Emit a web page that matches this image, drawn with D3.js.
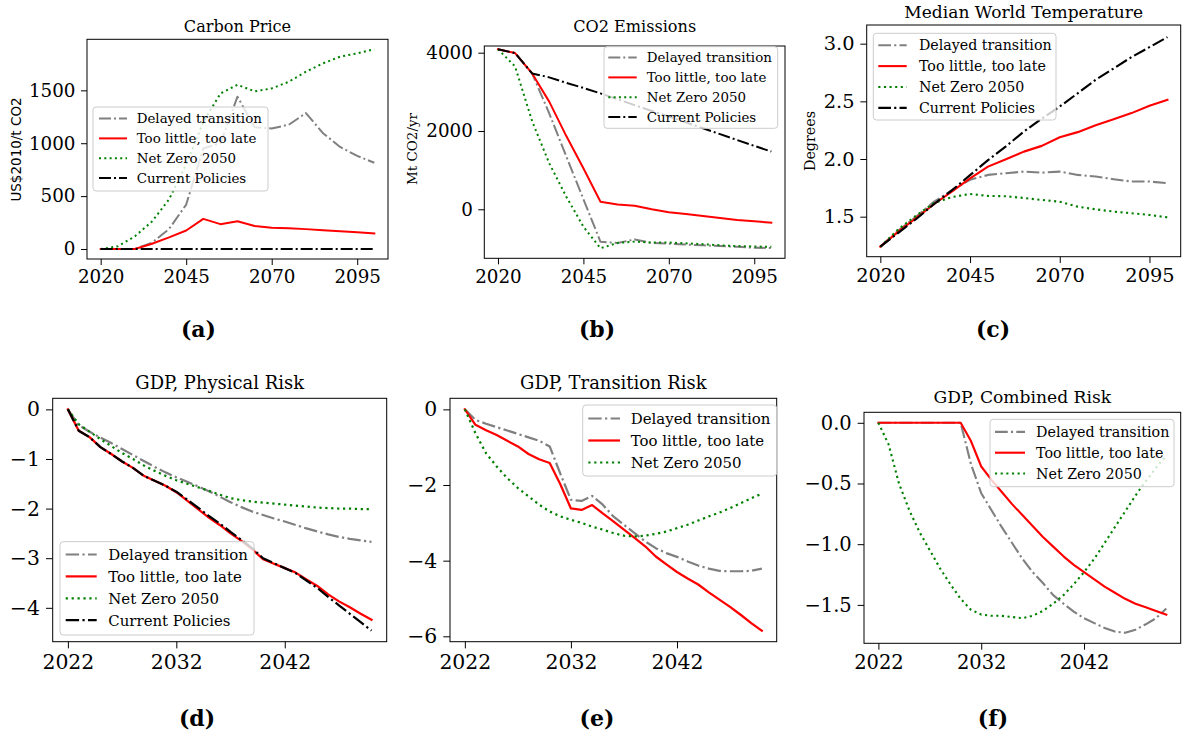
<!DOCTYPE html>
<html><head><meta charset="utf-8">
<script src="https://cdn.jsdelivr.net/npm/d3@7"></script>
<style>body{margin:0;background:#fff;} svg{display:block;}</style>
</head><body><svg id="c" width="1187" height="735"></svg>
<script>
// ---------- DATA ----------
const scenarioNames = ["Delayed transition", "Too little, too late", "Net Zero 2050", "Current Policies"];

const yearsLong = [2020,2025,2030,2035,2040,2045,2050,2055,2060,2065,2070,2075,2080,2085,2090,2095,2100];
const yearsShort = [2022,2023,2024,2025,2026,2027,2028,2029,2030,2031,2032,2033,2034,2035,2036,2037,2038,2039,2040,2041,2042,2043,2044,2045,2046,2047,2048,2049,2050];

const longTicks = [2020, 2045, 2070, 2095];
const shortTicks = [2022, 2032, 2042];

// Carbon price (US$2010/t CO2)
const carbonDelayed   = [0,0,0,60,190,420,950,1000,1440,1150,1140,1175,1285,1095,965,880,815];
const carbonTooLittle = [0,0,0,50,110,175,285,235,262,218,200,197,188,178,168,158,148];
const carbonNetZero   = [0,25,120,260,470,800,1200,1470,1553,1490,1518,1581,1676,1755,1818,1850,1888];
const carbonCurrent   = [0,0,0,0,0,0,0,0,0,0,0,0,0,0,0,0,0];
const carbonTicks = [0, 500, 1000, 1500];

// CO2 emissions (Mt CO2/yr)
const co2Delayed   = [4090,3990,3470,2450,1350,260,-830,-860,-770,-860,-880,-900,-920,-940,-960,-980,-990];
const co2TooLittle = [4090,3990,3470,2750,1870,1047,194,120,92,0,-75,-120,-171,-222,-273,-307,-341];
const co2NetZero   = [4090,3650,2250,1175,322,-444,-996,-860,-826,-850,-850,-870,-890,-920,-940,-950,-960];
const co2Current   = [4090,3990,3470,3370,3230,3100,2960,2810,2660,2510,2370,2220,2070,1920,1770,1620,1475];
const co2Ticks = [0, 2000, 4000];

// Median world temperature (degrees)
const tempDelayed   = [1.24,1.38,1.50,1.63,1.73,1.82,1.862,1.877,1.891,1.882,1.891,1.862,1.848,1.825,1.805,1.805,1.79];
const tempTooLittle = [1.24,1.37,1.49,1.61,1.72,1.833,1.934,1.998,2.064,2.114,2.189,2.233,2.293,2.345,2.398,2.461,2.513];
const tempNetZero   = [1.24,1.39,1.51,1.62,1.67,1.697,1.68,1.677,1.662,1.645,1.63,1.587,1.564,1.544,1.53,1.515,1.494];
const tempCurrent   = [1.24,1.36,1.48,1.61,1.73,1.86,1.99,2.11,2.238,2.35,2.455,2.57,2.687,2.785,2.884,2.97,3.057];
const tempTicks = [1.5, 2.0, 2.5, 3.0];

// GDP, physical risk
const physDelayed   = [0,-0.32,-0.45,-0.57,-0.68,-0.8,-0.92,-1.04,-1.16,-1.27,-1.37,-1.46,-1.55,-1.65,-1.76,-1.87,-1.97,-2.06,-2.13,-2.2,-2.26,-2.33,-2.4,-2.46,-2.52,-2.57,-2.61,-2.64,-2.67];
const physTooLittle = [0,-0.43,-0.56,-0.76,-0.9,-1.05,-1.18,-1.34,-1.44,-1.54,-1.67,-1.84,-2.01,-2.18,-2.33,-2.5,-2.65,-2.82,-3.02,-3.11,-3.2,-3.29,-3.43,-3.56,-3.73,-3.87,-3.99,-4.12,-4.24];
const physNetZero   = [0,-0.3,-0.45,-0.6,-0.74,-0.88,-1.0,-1.13,-1.24,-1.34,-1.43,-1.5,-1.57,-1.64,-1.72,-1.79,-1.83,-1.86,-1.88,-1.9,-1.92,-1.94,-1.96,-1.98,-1.99,-2.0,-2.0,-2.01,-2.01];
const physCurrent   = [0,-0.43,-0.56,-0.76,-0.9,-1.05,-1.18,-1.34,-1.44,-1.54,-1.66,-1.82,-1.98,-2.15,-2.3,-2.47,-2.63,-2.8,-3.0,-3.1,-3.2,-3.3,-3.45,-3.6,-3.78,-3.95,-4.12,-4.29,-4.46];
const physTicks = [-4, -3, -2, -1, 0];

// GDP, transition risk
const transDelayed   = [0,-0.28,-0.38,-0.47,-0.56,-0.65,-0.74,-0.83,-0.98,-1.7,-2.39,-2.42,-2.29,-2.52,-2.83,-3.05,-3.27,-3.49,-3.67,-3.8,-3.9,-4.02,-4.13,-4.21,-4.27,-4.28,-4.28,-4.27,-4.21];
const transTooLittle = [0,-0.41,-0.55,-0.68,-0.83,-0.98,-1.18,-1.32,-1.42,-1.98,-2.62,-2.66,-2.53,-2.75,-2.96,-3.18,-3.4,-3.62,-3.89,-4.1,-4.3,-4.47,-4.63,-4.84,-5.03,-5.22,-5.43,-5.65,-5.85];
const transNetZero   = [0,-0.63,-1.16,-1.51,-1.82,-2.08,-2.3,-2.52,-2.7,-2.83,-2.92,-3.0,-3.1,-3.18,-3.27,-3.34,-3.36,-3.34,-3.29,-3.23,-3.14,-3.05,-2.94,-2.83,-2.73,-2.61,-2.48,-2.35,-2.23];
const transTicks = [-6, -4, -2, 0];

// GDP, combined risk
const combDelayed   = [0,0,0,0,0,0,0,0,0,-0.34,-0.58,-0.72,-0.86,-0.99,-1.12,-1.23,-1.32,-1.42,-1.49,-1.555,-1.61,-1.65,-1.69,-1.72,-1.73,-1.705,-1.66,-1.61,-1.53];
const combTooLittle = [0,0,0,0,0,0,0,0,0,-0.15,-0.36,-0.47,-0.57,-0.67,-0.76,-0.85,-0.94,-1.02,-1.1,-1.17,-1.23,-1.29,-1.35,-1.40,-1.45,-1.49,-1.52,-1.55,-1.58];
const combNetZero   = [0,-0.18,-0.5,-0.72,-0.9,-1.05,-1.2,-1.33,-1.45,-1.54,-1.58,-1.59,-1.59,-1.6,-1.61,-1.59,-1.55,-1.49,-1.42,-1.33,-1.23,-1.12,-0.99,-0.86,-0.73,-0.6,-0.48,-0.37,-0.27];
const combTicks = [-1.5, -1.0, -0.5, 0.0];

// ---------- STYLE / LAYOUT ----------
const seriesStyle = {
  "Delayed transition":   {color: "#808080", dash: "dashdot"},
  "Too little, too late": {color: "#ff0000", dash: "solid"},
  "Net Zero 2050":        {color: "#008000", dash: "dotted"},
  "Current Policies":     {color: "#000000", dash: "dashdot"}
};
const SERIF = "'DejaVu Serif', serif";
const SANS = "'DejaVu Sans', sans-serif";

const panels = [
  {id:"a", title:"Carbon Price", years: yearsLong, xticks: longTicks, yticks: carbonTicks, yfmt:"d",
   data:[carbonDelayed, carbonTooLittle, carbonNetZero, carbonCurrent],
   box:[87,39.3,388,259], ylim:[-94.4,1982.4], xlim:[2016,2104], s:1.0, titleY:31.6,
   ylabel:{text:"US$2010/t CO2", x:21, y:149.5, font:SANS},
   legend:{box:[93,107,268,191], first:118.6, rowH:19.8, h0:99, h1:127, tx:136.7},
   sub:{text:"(a)", x:198.5, y:336.7}},
  {id:"b", title:"CO2 Emissions", years: yearsLong, xticks: longTicks, yticks: co2Ticks, yfmt:"d",
   data:[co2Delayed, co2TooLittle, co2NetZero, co2Current],
   box:[484.3,46,785,258.3], ylim:[-1252,4171], xlim:[2016,2104], s:1.0, titleY:31.6,
   ylabel:{text:"Mt CO2/yr", x:417, y:149, font:SERIF},
   legend:{box:[604,46.7,777.7,128.3], first:57.6, rowH:19.8, h0:608.3, h1:636.7, tx:646.7},
   sub:{text:"(b)", x:597, y:336.7}},
  {id:"c", title:"Median World Temperature", years: yearsLong, xticks: longTicks, yticks: tempTicks, yfmt:".1f",
   data:[tempDelayed, tempTooLittle, tempNetZero, tempCurrent],
   box:[866.7,25,1180.7,256.7], ylim:[1.153,3.162], xlim:[2016.2,2103.7], s:1.06, titleY:18.4,
   ylabel:{text:"Degrees", x:815, y:141, font:SERIF},
   legend:{box:[873.3,33.3,1056,120], first:45.2, rowH:20.9, h0:878.3, h1:906.7, tx:919},
   sub:{text:"(c)", x:993, y:336.7}},
  {id:"d", title:"GDP, Physical Risk", years: yearsShort, xticks: shortTicks, yticks: physTicks, yfmt:"d",
   data:[physDelayed, physTooLittle, physNetZero, physCurrent],
   box:[52.7,398.3,386.7,641.7], ylim:[-4.683,0.223], xlim:[2020.6,2051.4], s:1.115, titleY:389.4,
   ylabel:null,
   legend:{box:[60,541.7,254,635], first:554.5, rowH:21.9, h0:65.7, h1:96.7, tx:108.3},
   sub:{text:"(d)", x:197, y:725.5}},
  {id:"e", title:"GDP, Transition Risk", years: yearsShort, xticks: shortTicks, yticks: transTicks, yfmt:"d",
   data:[transDelayed, transTooLittle, transNetZero],
   box:[450,398.3,776.7,641.7], ylim:[-6.1425,0.2925], xlim:[2020.6,2051.4], s:1.115, titleY:389.4,
   ylabel:null,
   legend:{box:[582.7,405,776.7,476], first:418.5, rowH:22, h0:588.3, h1:620, tx:630.7},
   sub:{text:"(e)", x:597, y:725.5}},
  {id:"f", title:"GDP, Combined Risk", years: yearsShort, xticks: shortTicks, yticks: combTicks, yfmt:".1f",
   data:[combDelayed, combTooLittle, combNetZero],
   box:[864,412.3,1180.7,643.3], ylim:[-1.8165,0.0865], xlim:[2020.6,2051.4], s:1.065, titleY:403.4,
   ylabel:null,
   legend:{box:[990,419.3,1174,486.7], first:431.9, rowH:20.8, h0:995, h1:1025, tx:1036},
   sub:{text:"(f)", x:993, y:725.5}}
];

function dashFor(kind, s) {
  if (kind === "dashdot") return [12,3,2,3].map(v => v*s).join(",");
  if (kind === "dotted") return [2,3.3].map(v => v*s).join(",");
  return null;
}

const svg = d3.select("#c");
svg.append("rect").attr("width",1187).attr("height",735).attr("fill","#fff");
const defs = svg.append("defs");

panels.forEach(p => {
  const s = p.s;
  const [x0,y0,x1,y1] = p.box;
  const x = d3.scaleLinear().domain(p.xlim).range([x0,x1]);
  const y = d3.scaleLinear().domain(p.ylim).range([y1,y0]);
  const g = svg.append("g").attr("class","panel-"+p.id);

  defs.append("clipPath").attr("id","clip-"+p.id)
    .append("rect").attr("x",x0).attr("y",y0).attr("width",x1-x0).attr("height",y1-y0);

  const lw = 2*s;
  const line = d3.line().x((d,i) => x(p.years[i])).y(d => y(d));
  const plot = g.append("g").attr("clip-path","url(#clip-"+p.id+")");
  p.data.forEach((vals, k) => {
    const st = seriesStyle[scenarioNames[k]];
    plot.append("path").datum(vals).attr("d", line)
      .attr("fill","none").attr("stroke", st.color).attr("stroke-width", lw)
      .attr("stroke-dasharray", dashFor(st.dash, s))
      .attr("stroke-linejoin","round").attr("stroke-linecap", st.dash==="solid" ? "square" : "butt");
  });

  // frame
  g.append("rect").attr("x",x0).attr("y",y0).attr("width",x1-x0).attr("height",y1-y0)
    .attr("fill","none").attr("stroke","#000").attr("stroke-width",1);

  const tickFs = 18.3*s;
  const xa = d3.axisBottom(x).tickValues(p.xticks).tickSize(6*s).tickSizeOuter(0)
    .tickPadding(5.3*s).tickFormat(d3.format("d"));
  const xg = g.append("g").attr("transform",`translate(0,${y1})`).call(xa);
  const ya = d3.axisLeft(y).tickValues(p.yticks).tickSize(6*s).tickSizeOuter(0)
    .tickPadding(5.5*s).tickFormat(d3.format(p.yfmt));
  const yg = g.append("g").attr("transform",`translate(${x0},0)`).call(ya);
  [xg, yg].forEach(ag => {
    ag.select(".domain").remove();
    ag.attr("font-family", SERIF).attr("font-size", tickFs);
    ag.selectAll(".tick line").attr("stroke","#000").attr("stroke-width",1);
    ag.selectAll(".tick text").attr("fill","#000");
  });

  // title
  g.append("text").attr("x",(x0+x1)/2).attr("y",p.titleY).attr("text-anchor","middle")
    .attr("font-family",SERIF).attr("font-size",16.1*s).attr("fill","#000").text(p.title);

  // y label
  if (p.ylabel) {
    g.append("text").attr("transform",`translate(${p.ylabel.x},${p.ylabel.y}) rotate(-90)`)
      .attr("text-anchor","middle").attr("font-family",p.ylabel.font).attr("font-size",13.5*s)
      .attr("fill","#000").text(p.ylabel.text);
  }

  // legend
  const L = p.legend;
  const [lx0,ly0,lx1,ly1] = L.box;
  g.append("rect").attr("x",lx0).attr("y",ly0).attr("width",lx1-lx0).attr("height",ly1-ly0)
    .attr("rx",3*s).attr("fill","#fff").attr("fill-opacity",0.8)
    .attr("stroke","#cccccc").attr("stroke-width",1);
  const legFs = 13.4*s;
  p.data.forEach((vals,k) => {
    const name = scenarioNames[k];
    const st = seriesStyle[name];
    const cy = L.first + k*L.rowH;
    g.append("line").attr("x1",L.h0).attr("x2",L.h1).attr("y1",cy).attr("y2",cy)
      .attr("stroke",st.color).attr("stroke-width",lw)
      .attr("stroke-dasharray", dashFor(st.dash, s)).attr("stroke-linecap","butt");
    g.append("text").attr("x",L.tx).attr("y",cy + 0.36*legFs)
      .attr("font-family",SERIF).attr("font-size",legFs).attr("fill","#000").text(name);
  });

  // sub-figure label
  svg.append("text").attr("x",p.sub.x).attr("y",p.sub.y).attr("text-anchor","middle")
    .attr("font-family",SERIF).attr("font-weight","bold").attr("font-size",22).attr("fill","#000")
    .text(p.sub.text);
});
</script>
</body></html>
